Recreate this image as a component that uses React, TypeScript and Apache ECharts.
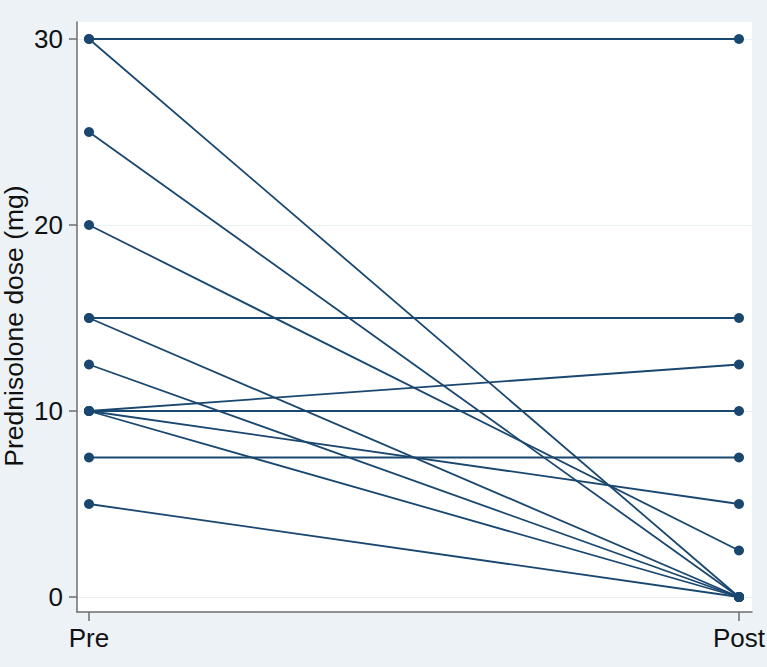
import React, { useEffect, useRef } from "react";
import * as echarts from "echarts";

const categories = ["Pre", "Post"];
const preDose = [30, 30, 25, 20, 15, 15, 12.5, 10, 10, 10, 10, 7.5, 5];
const postDose = [30, 0, 0, 2.5, 15, 0, 0, 12.5, 10, 5, 0, 7.5, 0];
const yTicks = [0, 10, 20, 30];
const xTicks = [0, 1];

const NAVY = "#1a476f";

export default function App() {
  const ref = useRef<HTMLDivElement>(null);
  useEffect(() => {
    document.body.style.margin = "0";
    const chart = echarts.init(ref.current!, null, { renderer: "svg" });
    const series = preDose.map((p, i) => ({
      type: "line",
      data: [
        [0, p],
        [1, postDose[i]],
      ],
      symbol: "circle",
      symbolSize: 10,
      lineStyle: { color: NAVY, width: 1.8 },
      itemStyle: { color: NAVY },
      z: 3,
    }));
    chart.setOption({
      animation: false,
      backgroundColor: "#ecf2f5",
      textStyle: { fontFamily: "Liberation Sans, Arial, sans-serif" },
      grid: {
        left: 77,
        right: 15,
        top: 22,
        bottom: 55,
        show: true,
        backgroundColor: "#ffffff",
        borderWidth: 0,
        containLabel: false,
        outerBoundsMode: "none",
      },
      xAxis: {
        type: "value",
        min: -12 / 650,
        max: 1 + 13 / 650,
        axisLine: { onZero: false, lineStyle: { color: "#6e6e6e", width: 1.5 } },
        axisTick: { show: true, customValues: xTicks, length: 9, lineStyle: { color: "#6e6e6e", width: 1.5 } },
        axisLabel: {
          customValues: xTicks,
          formatter: (v: number) => categories[Math.round(v)],
          fontSize: 26,
          color: "#111",
          margin: 13,
        },
        splitLine: { show: false },
      },
      yAxis: {
        type: "value",
        min: -15 / 18.6,
        max: 30 + 17 / 18.6,
        name: "Prednisolone dose (mg)",
        nameLocation: "middle",
        nameGap: 50,
        nameMoveOverlap: false,
        nameTextStyle: { fontSize: 26.5, lineHeight: 26, color: "#111", padding: [0, 18, 0, 0] },
        axisLine: { show: true, onZero: false, lineStyle: { color: "#6e6e6e", width: 1.5 } },
        axisTick: { show: true, customValues: yTicks, length: 8, lineStyle: { color: "#6e6e6e", width: 1.5 } },
        axisLabel: {
          customValues: yTicks,
          fontSize: 26,
          color: "#111",
          margin: 14,
        },
        splitLine: { show: true, lineStyle: { color: "#eaf1f3", width: 1.2 } },
      },
      series,
    });
    return () => chart.dispose();
  }, []);
  return <div ref={ref} style={{ width: 767, height: 667 }} />;
}
